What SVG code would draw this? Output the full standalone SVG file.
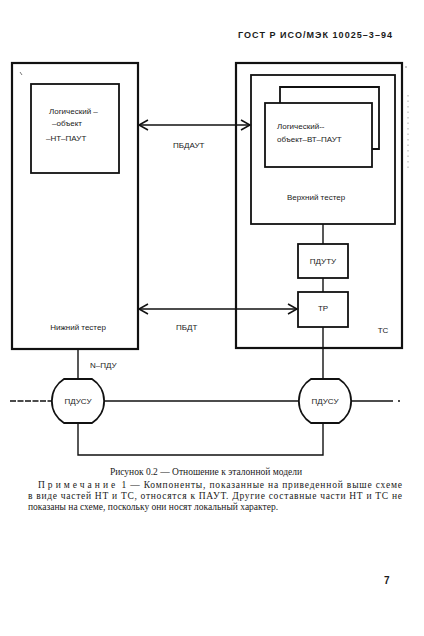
<svg xmlns="http://www.w3.org/2000/svg" width="424" height="636" viewBox="0 0 424 636">
<defs>
<style>
.box{fill:none;stroke:#111;stroke-width:1.8}
.thick{fill:none;stroke:#111;stroke-width:2.2}
.ln{fill:none;stroke:#111;stroke-width:1.4}
.t{font-family:"Liberation Sans",Arial,sans-serif;font-size:8px;fill:#1a1a1a}
.tc{font-family:"Liberation Sans",Arial,sans-serif;font-size:8px;fill:#1a1a1a;text-anchor:middle}
.s{font-family:"Liberation Serif","Times New Roman",serif;font-size:9.5px;fill:#1a1a1a}
</style>
<marker id="ah" viewBox="-10 -6 12 12" markerWidth="12" markerHeight="12" refX="0" refY="0" orient="auto-start-reverse" markerUnits="userSpaceOnUse">
<path d="M-9,-5 L0,0 L-9,5" fill="none" stroke="#111" stroke-width="1.5"/>
</marker>
</defs>
<rect width="424" height="636" fill="#ffffff"/>

<text x="238" y="38" font-family="Liberation Sans,Arial,sans-serif" font-size="9" font-weight="bold" fill="#1a1a1a" textLength="154" lengthAdjust="spacing">ГОСТ Р ИСО/МЭК 10025–3–94</text>

<g id="lower-tester">
<rect class="thick" x="12" y="63" width="126" height="286"/>
<text class="tc" x="78" y="330">Нижний тестер</text>
</g>
<g id="lt-paut">
<rect class="box" x="31" y="84" width="88" height="89"/>
<text class="t" x="49" y="114">Логический –</text>
<text class="t" x="52" y="126">–объект</text>
<text class="t" x="46" y="141">–НТ–ПАУТ</text>
</g>

<g id="ts">
<rect class="thick" x="236" y="63" width="166" height="285"/>
<text class="tc" x="383" y="333">ТС</text>
</g>
<g id="upper-tester">
<rect class="box" x="251" y="75" width="144" height="149"/>
<text class="tc" x="316" y="200">Верхний тестер</text>
</g>
<g id="ut-paut">
<path class="box" d="M280,103 V87 H379 V149 H372"/>
<rect class="box" x="265" y="103" width="107" height="64" fill="#fff"/>
<text class="t" x="277" y="129">Логический--</text>
<text class="t" x="277" y="142">объект–ВТ–ПАУТ</text>
</g>
<g id="pduty">
<rect class="box" x="298" y="244" width="50" height="34"/>
<text class="tc" x="323" y="264">ПДУТУ</text>
</g>
<g id="tr">
<rect class="box" x="298" y="292" width="50" height="35"/>
<text class="tc" x="323" y="311">ТР</text>
</g>

<g id="pdusu-left">
<path class="box" d="M64,379 H92 A26,26 0 0 1 92,423 H64 A26,26 0 0 1 64,379 Z"/>
<text class="tc" x="78" y="404">ПДУСУ</text>
</g>
<g id="pdusu-right">
<path class="box" d="M311,379 H339 A26,26 0 0 1 339,423 H311 A26,26 0 0 1 311,379 Z"/>
<text class="tc" x="325" y="404">ПДУСУ</text>
</g>

<g id="connectors">
<line class="ln" x1="139" y1="125" x2="250" y2="125" marker-start="url(#ah)" marker-end="url(#ah)"/>
<line class="ln" x1="139" y1="309" x2="297" y2="309" marker-start="url(#ah)" marker-end="url(#ah)"/>
<line class="ln" x1="323" y1="224" x2="323" y2="244"/>
<line class="ln" x1="323" y1="278" x2="323" y2="292"/>
<line class="ln" x1="323" y1="327" x2="323" y2="379"/>
<line class="ln" x1="78" y1="349" x2="78" y2="379"/>
<line class="ln" x1="10" y1="401" x2="52" y2="401" stroke-dasharray="6 1.5"/>
<line class="ln" x1="104" y1="401" x2="299" y2="401"/>
<line class="ln" x1="351" y1="401" x2="393" y2="401"/>
<circle cx="399" cy="401" r="1" fill="#111"/>
<polyline class="ln" points="78,423 78,455 323,455 323,423"/>
<text class="t" x="173" y="148">ПБДАУТ</text>
<text class="t" x="176" y="330">ПБДТ</text>
<text class="t" x="90" y="368">N–ПДУ</text>
</g>

<path d="M20,72 L22,75" stroke="#555" stroke-width="0.8"/>
<line x1="408" y1="95" x2="408" y2="172" stroke="#999" stroke-width="0.8" stroke-dasharray="1.5 4"/>
<circle cx="406" cy="67" r="0.7" fill="#666"/>

<text class="s" x="206" y="475" text-anchor="middle">Рисунок 0.2 — Отношение к эталонной модели</text>
<text class="s" x="38" y="488" textLength="364" lengthAdjust="spacing"><tspan letter-spacing="2.2">Примечание</tspan> 1 — Компоненты, показанные на приведенной выше схеме</text>
<text class="s" x="28" y="499" textLength="374" lengthAdjust="spacing">в виде частей НТ и ТС, относятся к ПАУТ. Другие составные части НТ и ТС не</text>
<text class="s" x="28" y="510">показаны на схеме, поскольку они носят локальный характер.</text>

<text x="384" y="584" font-family="Liberation Sans,Arial,sans-serif" font-size="10" font-weight="bold" fill="#1a1a1a">7</text>
</svg>
